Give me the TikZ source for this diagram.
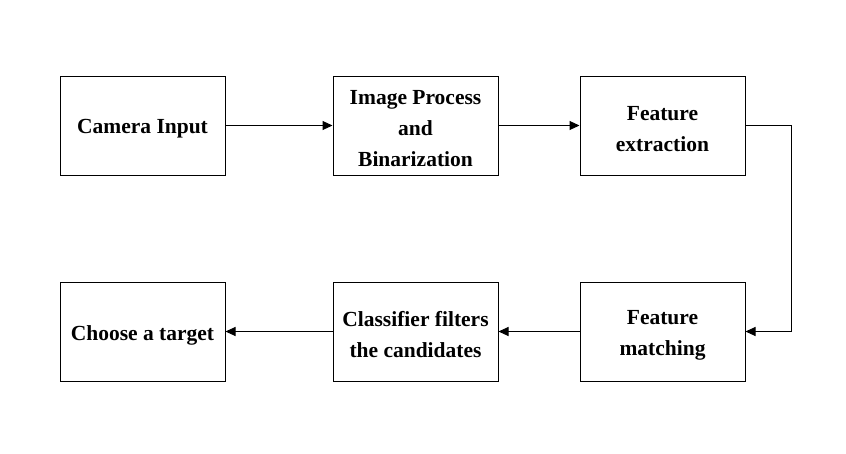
\documentclass[tikz,border=0pt]{standalone}
\usepackage{fontspec}
\setmainfont{Liberation Serif}
\usetikzlibrary{arrows.meta,positioning}

\tikzset{
	stage/.style={draw, line width=1pt, minimum width=165pt, minimum height=99pt, inner sep=0pt},
	stagetext/.style={align=center, yshift=-3.5pt, font=\fontsize{21.5}{31}\selectfont\bfseries},
	flow/.style={line width=1pt, -{Triangle[length=10pt,width=9pt]}}
}

\begin{document}
\begin{tikzpicture}[x=1pt,y=-1pt]
	\useasboundingbox (0,0) rectangle (846,453);
	% top row
	\node[stage, label={[stagetext]center:Camera Input}] (cam) at (142.5,125.5) {};
	\node[stage, label={[stagetext]center:{Image Process\\and\\Binarization}}] (proc) at (415.5,125.5) {};
	\node[stage, label={[stagetext]center:{Feature\\extraction}}] (feat) at (662.5,125.5) {};
	% bottom row
	\node[stage, label={[stagetext]center:{Feature\\matching}}] (match) at (662.5,331.5) {};
	\node[stage, label={[stagetext]center:{Classifier filters\\the candidates}}] (cls) at (415.5,331.5) {};
	\node[stage, label={[stagetext]center:Choose a target}] (choose) at (142.5,331.5) {};
	\draw[flow] (cam)--(proc);
	\draw[flow] (proc)--(feat);
	\draw[flow] (feat.east)--++(46,0) |- (match.east);
	\draw[flow] (match)--(cls);
	\draw[flow] (cls)--(choose);
\end{tikzpicture}
\end{document}
